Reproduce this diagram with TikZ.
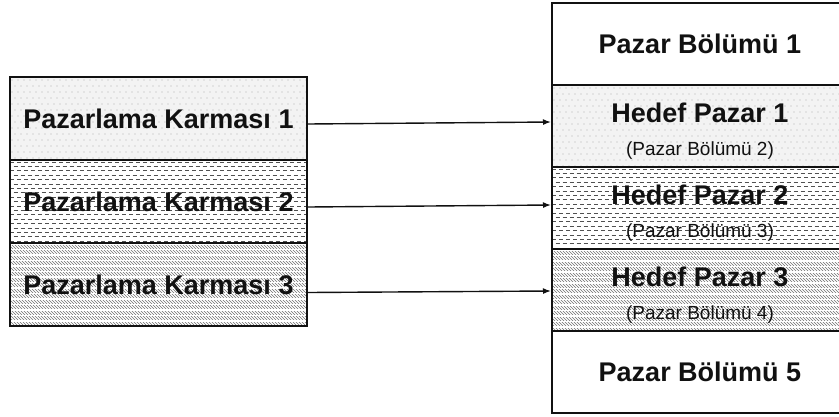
\documentclass[tikz,border=0pt]{standalone}
\usepackage{fontspec}
\setmainfont{Liberation Sans}
\usetikzlibrary{arrows.meta}

\definecolor{ink}{HTML}{111111}
\definecolor{dotbg}{HTML}{F3F3F3}
\definecolor{dotc}{HTML}{B0B0B0}
\definecolor{dashc}{HTML}{505050}
\definecolor{hatchc}{HTML}{707070}

\tikzset{
  cell/.style={draw=ink, line width=2pt, text=ink, inner sep=0pt, align=center},
  leftcell/.style={cell, minimum width=297pt, minimum height=83pt},
  rightcell/.style={cell, minimum width=296pt, minimum height=82pt},
  big/.style={font=\fontsize{27}{30}\selectfont\bfseries},
  twoline/.style={text=ink, inner sep=0pt, align=center, font=\fontsize{19}{33}\selectfont},
  arrow/.style={draw=ink, line width=1.4pt, -{Latex[length=8pt,width=6pt]}}
}

% fills for the rectangle (#1,#2)-(#3,#4)
% light grey ground with a staggered dot grid
\newcommand{\dotpattern}[4]{%
  \begin{scope}
    \clip (#1,#2) rectangle (#3,#4);
    \fill[dotbg] (#1,#2) rectangle (#3,#4);
    \foreach \j in {0,...,14}{
      \foreach \i in {0,...,50}{
        \fill[dotc] ({#1+\i*6+3*mod(\j,2)+2},{#2+\j*6+3}) circle (0.7pt);}}
  \end{scope}}
% rows of short horizontal dashes, every other row offset
\newcommand{\dashpattern}[4]{%
  \begin{scope}
    \clip (#1,#2) rectangle (#3,#4);
    \fill[white] (#1,#2) rectangle (#3,#4);
    \foreach \j in {0,...,19}{
      \pgfmathsetmacro\ph{mod(\j,2)*3.5}
      \draw[dashc, line width=0.9pt, dash pattern=on 4pt off 3pt, dash phase=\ph pt]
        (#1,{#2+\j*4.4+2}) -- (#3,{#2+\j*4.4+2});}
  \end{scope}}
% bands of fine back-slash hatching
\newcommand{\hatchpattern}[4]{%
  \begin{scope}
    \clip (#1,#2) rectangle (#3,#4);
    \fill[white] (#1,#2) rectangle (#3,#4);
    \foreach \i in {-35,...,105}{
      \draw[hatchc, line width=0.6pt] ({#1+\i*3},#2) -- ({#1+\i*3+90},{#2+90});}
    \foreach \j in {0,...,16}{
      \draw[white, line width=1.3pt] (#1,{#2+\j*5.5+1}) -- (#3,{#2+\j*5.5+1});}
  \end{scope}}

\newcommand{\mainline}[1]{{\fontsize{27}{30}\selectfont\bfseries #1}}

\begin{document}
\begin{tikzpicture}[x=1pt,y=-1pt]
  \useasboundingbox (0,0) rectangle (839,416);
  \clip (0,0) rectangle (839,416);

  % cell fills
  \dotpattern{10}{77}{307}{160}
  \dashpattern{10}{160}{307}{243}
  \hatchpattern{10}{243}{307}{326}
  \fill[white] (552,3) rectangle (848,85);
  \dotpattern{552}{85}{848}{167}
  \dashpattern{552}{167}{848}{249}
  \hatchpattern{552}{249}{848}{331}
  \fill[white] (552,331) rectangle (848,413);

  % marketing mixes
  \node[leftcell, big] (k1) at (158.5,118.5) {Pazarlama Karması 1};
  \node[leftcell, big] (k2) at (158.5,201.5) {Pazarlama Karması 2};
  \node[leftcell, big] (k3) at (158.5,284.5) {Pazarlama Karması 3};

  % market segments
  \node[rightcell, big] (b1) at (700,44) {Pazar Bölümü 1};
  \node[rightcell] (h1) at (700,126) {};
  \node[rightcell] (h2) at (700,208) {};
  \node[rightcell] (h3) at (700,290) {};
  \node[rightcell, big] (b5) at (700,372) {Pazar Bölümü 5};

  \node[twoline] (h1t) at ([yshift=-5pt]h1.center) {\mainline{Hedef Pazar 1}\\(Pazar Bölümü 2)};
  \node[twoline] (h2t) at ([yshift=-5pt]h2.center) {\mainline{Hedef Pazar 2}\\(Pazar Bölümü 3)};
  \node[twoline] (h3t) at ([yshift=-5pt]h3.center) {\mainline{Hedef Pazar 3}\\(Pazar Bölümü 4)};

  % mix -> target market
  \draw[arrow] ([yshift=-5.5pt]k1.east) -- ([yshift=4pt]h1.west);
  \draw[arrow] ([yshift=-5.5pt]k2.east) -- ([yshift=3pt]h2.west);
  \draw[arrow] ([yshift=-8pt]k3.east)   -- ([yshift=-1pt]h3.west);
\end{tikzpicture}
\end{document}
